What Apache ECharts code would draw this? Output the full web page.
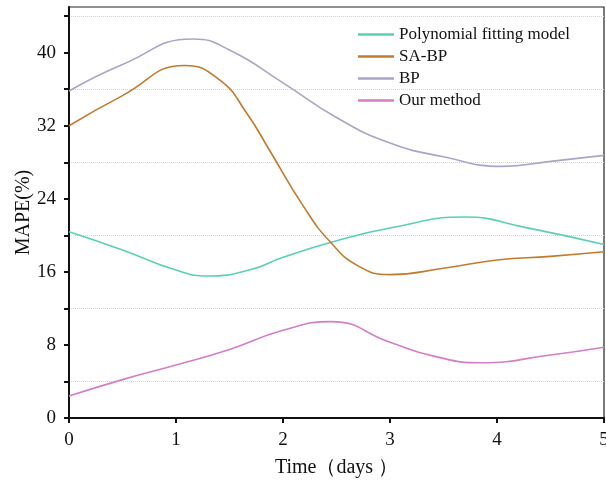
<!DOCTYPE html>
<html>
<head>
<meta charset="utf-8">
<script src="https://cdn.jsdelivr.net/npm/echarts@6/dist/echarts.min.js"></script>
<style>
  html, body { margin: 0; padding: 0; background: #fff; }
  #main { width: 606px; height: 480px; }
</style>
</head>
<body>
<div id="main"></div>
<script>
// readings per curve: time (days) and MAPE (%)
var polyDays = [0, 0.5, 1, 1.3, 1.7, 2, 2.5, 3, 3.7, 4.25, 5];
var polyFit  = [20.4, 18.4, 16.2, 15.55, 16.25, 17.6, 19.4, 20.8, 22.0, 20.9, 19.0];

var saBpDays = [0, 0.5, 1.08, 1.41, 1.66, 1.87, 2.19, 2.44, 2.71, 3, 3.5, 4, 4.5, 5];
var saBp     = [32.0, 35.3, 38.6, 37.0, 33.4, 29.4, 23.2, 19.3, 16.6, 15.7, 16.4, 17.3, 17.7, 18.2];

var bpDays = [0, 0.5, 1.16, 1.5, 2, 2.5, 3, 3.5, 4.05, 4.5, 5];
var bp     = [35.8, 38.7, 41.5, 40.3, 36.7, 32.9, 30.1, 28.6, 27.55, 28.1, 28.75];

var oursDays = [0, 0.5, 1, 1.5, 2, 2.45, 3, 3.4, 3.85, 4.5, 5];
var ours     = [2.4, 4.2, 5.8, 7.5, 9.6, 10.55, 8.3, 6.8, 6.05, 6.9, 7.75];

var seriesNames = ['Polynomial fitting model', 'SA-BP', 'BP', 'Our method'];
var seriesColors = ['#5ccfb6', '#c47a2e', '#a9a5c9', '#d47ec6'];

// y axis ticks / labels
var yTicks = [0, 4, 8, 12, 16, 20, 24, 28, 32, 36, 40, 44];
var yLabels = [0, 8, 16, 24, 32, 40];

var chart = echarts.init(document.getElementById('main'));

function pairs(xs, vals) {
  return xs.map(function (d, i) { return [d, vals[i]]; });
}

var font = 'Liberation Serif';

var curves = [
  [polyDays, polyFit],
  [saBpDays, saBp],
  [bpDays, bp],
  [oursDays, ours]
];

var series = curves.map(function (c, i) {
  return {
    name: seriesNames[i],
    type: 'line',
    smooth: 0.5,
    showSymbol: false,
    data: pairs(c[0], c[1]),
    lineStyle: { width: 1.6, color: seriesColors[i] },
    itemStyle: { color: seriesColors[i] }
  };
});

chart.setOption({
  animation: false,
  backgroundColor: '#fff',
  grid: {
    left: 69, right: 2, top: 7, bottom: 62,
    outerBoundsMode: 'none',
    containLabel: false,
    show: true, borderColor: '#222', borderWidth: 1.2
  },
  legend: {
    orient: 'vertical',
    left: 353, top: 21,
    icon: 'rect',
    itemWidth: 36, itemHeight: 2.5,
    itemGap: 5,
    data: seriesNames,
    textStyle: { fontFamily: font, fontSize: 17, color: '#111' }
  },
  xAxis: {
    type: 'value',
    min: 0, max: 5, interval: 1,
    name: 'Time（days ）',
    nameLocation: 'middle',
    nameGap: 40,
    nameMoveOverlap: false,
    nameTextStyle: { fontFamily: font, fontSize: 20, color: '#111' },
    axisLine: { lineStyle: { color: '#111', width: 2 } },
    axisTick: { inside: false, length: 5, lineStyle: { color: '#111', width: 2 } },
    axisLabel: { fontFamily: font, fontSize: 19, color: '#111', margin: 13 },
    splitLine: { show: false }
  },
  yAxis: {
    type: 'value',
    min: 0, max: 45, interval: 4,
    name: 'MAPE(%)',
    nameLocation: 'middle',
    nameGap: 35,
    nameMoveOverlap: false,
    nameTextStyle: { fontFamily: font, fontSize: 20, color: '#111' },
    axisLine: { lineStyle: { color: '#111', width: 2 } },
    axisTick: { inside: false, length: 5, customValues: yTicks, lineStyle: { color: '#111', width: 2 } },
    axisLabel: { fontFamily: font, fontSize: 19, color: '#111', margin: 13, customValues: yLabels },
    splitLine: {
      show: true,
      lineStyle: { color: ['transparent', '#d4d4d4'], type: 'dotted', width: 1 }
    }
  },
  series: series
});
</script>
</body>
</html>
